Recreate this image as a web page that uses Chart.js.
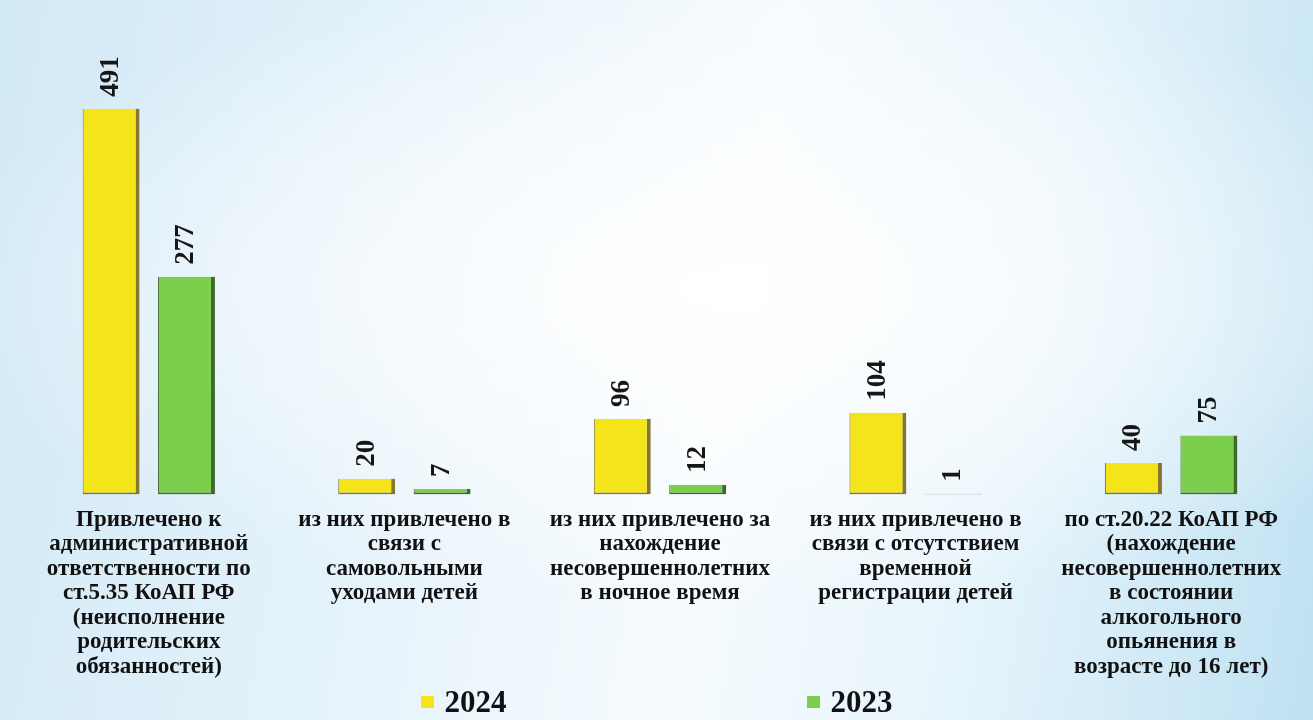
<!DOCTYPE html>
<html>
<head>
<meta charset="utf-8">
<script src="https://cdn.jsdelivr.net/npm/chart.js@4/dist/chart.umd.min.js"></script>
<style>
body{
    margin:0;
    width:1313px;
    height:720px;
    overflow:hidden;
    background:
        radial-gradient(ellipse 60% 45% at 55% 40%, rgba(255,255,255,0.95) 0%, rgba(255,255,255,0.5) 55%, rgba(255,255,255,0) 100%),
        linear-gradient(100deg, #d2e9f6 0%, #e4f2fa 30%, #f6fbfe 55%, #e6f4fb 75%, #bfe1f2 100%);
}
#wrap{position:relative;width:1313px;height:720px;}
#legend{
    position:absolute; left:0; right:0; top:684px;
    display:flex; justify-content:center; gap:300px;
    font-family:"Liberation Serif", serif; font-weight:bold; font-size:31px; color:#111;
}
.item{display:flex;align-items:center;}
.box{width:13px;height:12px;margin-right:11px;}
</style>
</head>
<body>
<div id="wrap">
<canvas id="chart" width="1313" height="720"></canvas>
<div id="legend"></div>
</div>
<script>
const categories = [
    ["Привлечено к", "административной", "ответственности по", "ст.5.35 КоАП РФ", "(неисполнение", "родительских", "обязанностей)"],
    ["из них привлечено в", "связи с", "самовольными", "уходами детей"],
    ["из них привлечено за", "нахождение", "несовершеннолетних", "в ночное время"],
    ["из них привлечено в", "связи с отсутствием", "временной", "регистрации детей"],
    ["по ст.20.22 КоАП РФ", "(нахождение", "несовершеннолетних", "в состоянии", "алкогольного", "опьянения в", "возрасте до 16 лет)"]
];
const series_names = ["2024", "2023"];
const values_2024 = [491, 20, 96, 104, 40];
const values_2023 = [277, 7, 12, 1, 75];

const colors = ["#f4e41a", "#7ccf4c"];
const edges = ["#857630", "#3f6a2c"];

// value labels turned on their side above each bar
const barValues = {
    id: 'barValues',
    afterDatasetsDraw(chart){
        const ctx = chart.ctx;
        ctx.save();
        ctx.font = 'bold 27px "Liberation Serif"';
        ctx.fillStyle = '#161616';
        ctx.textAlign = 'left';
        ctx.textBaseline = 'middle';
        chart.data.datasets.forEach((ds, i) => {
            chart.getDatasetMeta(i).data.forEach((bar, j) => {
                ctx.save();
                ctx.translate(bar.x, bar.y - 12);
                ctx.rotate(-Math.PI / 2);
                ctx.fillText(String(ds.data[j]), 0, 0);
                ctx.restore();
            });
        });
        ctx.restore();
    }
};

function makeDataset(label, data, i){
    return {
        label: label,
        data: data,
        backgroundColor: colors[i],
        borderColor: edges[i],
        borderWidth: {top: 0, right: 4, bottom: 2, left: 1},
        borderSkipped: false,
        categoryPercentage: 0.59,
        barPercentage: 0.755
    };
}

const chart = new Chart(document.getElementById('chart').getContext('2d'), {
    type: 'bar',
    data: {
        labels: categories,
        datasets: [
            makeDataset(series_names[0], values_2024, 0),
            makeDataset(series_names[1], values_2023, 1)
        ]
    },
    options: {
        responsive: false,
        animation: false,
        layout: {padding: {left: 21, right: 14, top: 23, bottom: 36}},
        plugins: {
            legend: {display: false},
            tooltip: {enabled: false}
        },
        scales: {
            x: {
                grid: {display: false},
                border: {display: false},
                ticks: {
                    autoSkip: false,
                    maxRotation: 0,
                    minRotation: 0,
                    padding: 5,
                    color: '#111',
                    font: {family: '"Liberation Serif"', weight: 'bold', size: 23, lineHeight: '24.5px'}
                }
            },
            y: {
                display: false,
                min: 0,
                max: 600
            }
        }
    },
    plugins: [barValues]
});

// legend built from the datasets
const legend = document.getElementById('legend');
chart.data.datasets.forEach(ds => {
    const item = document.createElement('div');
    item.className = 'item';
    const box = document.createElement('span');
    box.className = 'box';
    box.style.background = ds.backgroundColor;
    item.appendChild(box);
    item.appendChild(document.createTextNode(ds.label));
    legend.appendChild(item);
});
</script>
</body>
</html>
